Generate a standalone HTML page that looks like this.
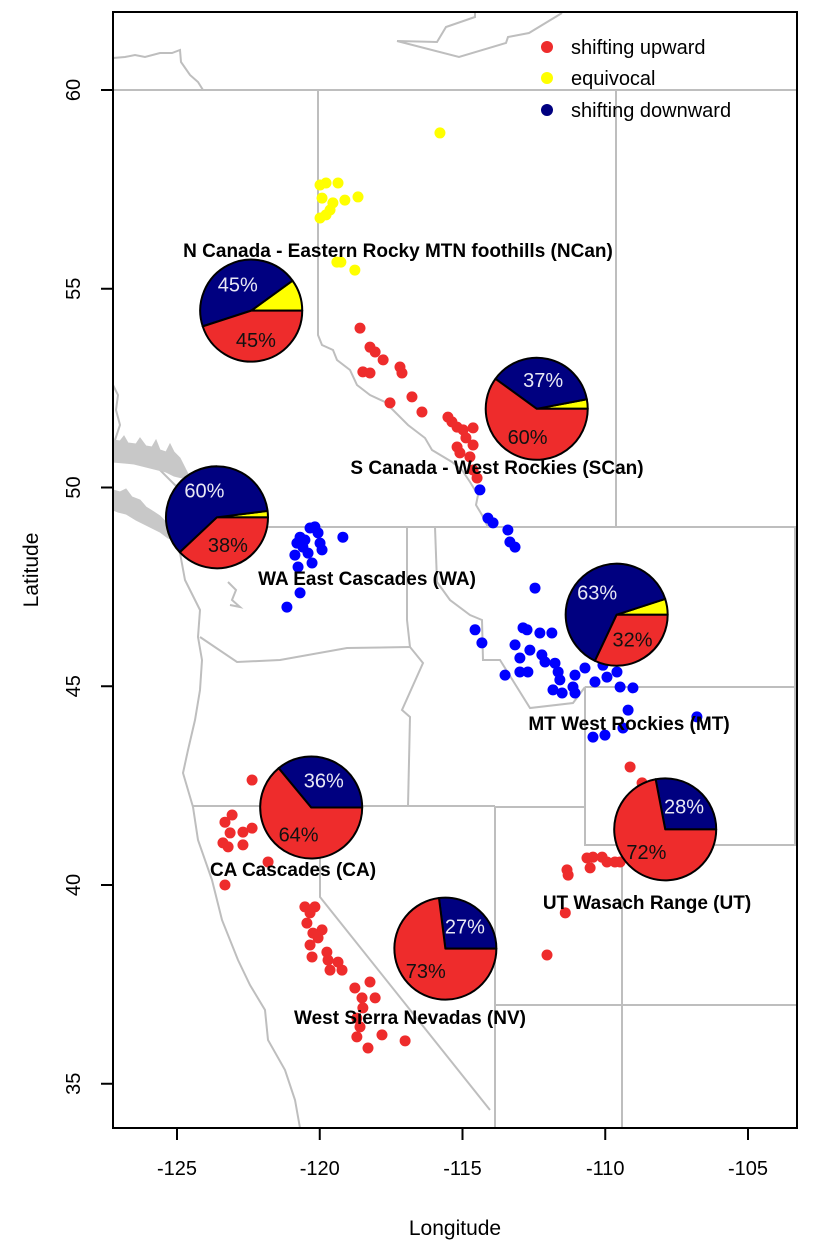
<!DOCTYPE html>
<html><head><meta charset="utf-8">
<style>
html,body{margin:0;padding:0;background:#fff;}
svg{display:block;font-family:"Liberation Sans",Arial,sans-serif;}
</style></head>
<body>
<svg id="chart" width="830" height="1250" viewBox="0 0 830 1250" xmlns="http://www.w3.org/2000/svg">
<g id="basemap" fill="none" stroke="#bebebe" stroke-width="2">
  <line x1="113" y1="90" x2="797" y2="90"/>
  <path d="M397,41 L459,57 L506,43 L508,37 L529,33 L562,13 M397,41 L437,42 L446,27 L475,17 L475,12"/>
  <path d="M113,58 L125,57 L135,55 L145,57 L160,53 L172,53 L180,50 L181,62 L190,75 L198,82 L203,90"/>
  <path d="M318,90 L318,335 L322,345 L333,350 L337,360 L350,370 L357,385 L370,395 L385,402 L395,412 L408,425 L425,438 L432,450 L452,462 L462,470 L470,482 L478,495 L476,505 L482,515 L488,527"/>
  <line x1="616" y1="90" x2="616" y2="527"/>
  <line x1="262" y1="527" x2="797" y2="527"/>
  <line x1="795" y1="527" x2="795" y2="845"/>
  <path d="M585,687 L797,687 M585,687 L585,845 L797,845"/>
  <path d="M495,807 L495,1128 M495,807 L585,807 M622,845 L622,1128 M495,1005 L797,1005"/>
  <path d="M320,807 L320,897 L490,1110"/>
  <line x1="193" y1="806" x2="495" y2="806"/>
  <path d="M407,527 L407,620 L410,647 L423,663 L402,710 L410,717 L408,806 M435,527 L437,582 L450,600 L470,615 L482,620 L483,660 L500,660 L530,708 L573,703 L585,687"/>
  <path d="M200,637 L237,662 L280,660 L347,648 L410,647"/>
  <path d="M113,385 L118,395 L116,410 L120,425 L115,440 M113,445 L140,455 L160,470 L180,490 L190,510 L182,530 L180,553 L185,580 L200,610 L198,637 L202,660 L200,690 L195,720 L188,750 L183,773 L193,807 L198,840 L212,880 L222,920 L238,960 L250,985 L265,1010 L268,1040 L285,1070 L295,1100 L300,1128"/>
  <path fill="#c8c8c8" stroke="#c8c8c8" stroke-width="1" d="M113,440 L120,441 L124,436 L128,443 L136,444 L140,438 L146,446 L152,447 L156,440 L160,450 L166,452 L170,444 L174,452 L180,458 L184,466 L188,474 L182,478 L174,476 L166,472 L158,470 L150,468 L142,466 L134,464 L124,463 L113,462 Z M113,490 L120,492 L126,489 L132,497 L140,500 L146,507 L154,512 L160,516 L168,524 L174,532 L176,540 L168,538 L160,532 L152,528 L144,524 L136,520 L126,514 L118,512 L113,510 Z"/>
  <path d="M228,582 L236,590 L232,600 L240,607 L230,605"/>
</g>
<g id="points"></g>
<g id="pies"></g>
<g id="regionLabels" font-weight="bold" font-size="19" fill="#000" text-anchor="middle">
  <text x="398" y="257">N Canada - Eastern Rocky MTN foothills (NCan)</text>
  <text x="497" y="474">S Canada - West Rockies (SCan)</text>
  <text x="367" y="585">WA East Cascades (WA)</text>
  <text x="629" y="730">MT West Rockies (MT)</text>
  <text x="293" y="876">CA Cascades (CA)</text>
  <text x="647" y="909">UT Wasach Range (UT)</text>
  <text x="410" y="1024">West Sierra Nevadas (NV)</text>
</g>
<g id="legend" font-size="20" fill="#000">
  <g><circle cx="547" cy="47" r="6" fill="#ee2c2c"/><text x="571" y="54">shifting upward</text></g>
  <g><circle cx="547" cy="78" r="6" fill="#ffff00"/><text x="571" y="85">equivocal</text></g>
  <g><circle cx="547" cy="110" r="6" fill="#000080"/><text x="571" y="117">shifting downward</text></g>
</g>
<rect x="113" y="12" width="684" height="1116" fill="none" stroke="#000" stroke-width="2"/>
<g id="xaxis"></g>
<g id="yaxis"></g>
<text x="455" y="1235" font-size="21" text-anchor="middle">Longitude</text>
<text transform="translate(38,570) rotate(-90)" font-size="21" text-anchor="middle">Latitude</text>
</svg>
<script>
const xTicks = [-125, -120, -115, -110, -105];
const yTicks = [35, 40, 45, 50, 55, 60];
const upLon = [-118.59,-118.24,-118.06,-117.78,-117.19,-117.12,-118.49,-118.24,-117.54,-116.77,-116.42,-115.51,-115.19,-114.98,-114.63,-115.19,-114.63,-115.09,-114.74,-114.63,-114.49,-114.88,-115.37,
 -122.37,-123.07,-123.32,-123.14,-123.39,-123.21,-122.69,-122.37,-122.69,-121.81,-123.32,
 -120.52,-120.17,-120.34,-120.45,-119.92,-120.24,-120.06,-120.34,-120.27,-119.75,-119.71,-119.36,-119.22,-119.64,-118.24,-118.77,-118.52,-118.06,-118.49,-118.70,-118.59,-117.82,-118.70,-118.31,-117.01,
 -109.13,-108.71,-110.64,-110.43,-110.11,-110.53,-109.94,-109.66,-109.48,-111.34,-111.30,-111.40,-112.04];
const upLat = [54.01,53.53,53.41,53.21,53.03,52.88,52.91,52.88,52.13,52.28,51.90,51.77,51.52,51.45,51.50,51.02,51.07,50.87,50.77,50.44,50.24,51.25,51.65,
 42.64,41.76,41.58,41.31,41.06,40.96,41.33,41.43,41.01,40.58,40.00,
 39.45,39.45,39.30,39.04,38.87,38.79,38.67,38.49,38.19,38.31,38.11,38.06,37.86,37.86,37.56,37.41,37.16,37.16,36.91,36.65,36.43,36.23,36.18,35.90,36.08,
 42.97,42.57,40.68,40.70,40.70,40.43,40.58,40.58,40.58,40.38,40.25,39.30,38.24];
const eqLon = [-115.79,-119.99,-119.78,-119.36,-119.92,-119.54,-119.12,-118.66,-119.64,-119.99,-119.78,-119.40,-119.26,-118.77];
const eqLat = [58.92,57.61,57.66,57.66,57.28,57.16,57.23,57.31,56.98,56.78,56.86,55.67,55.67,55.47];
const downLon = [-114.39,-114.11,-113.93,-113.41,-113.34,-113.16,-112.46,-114.56,-114.32,-112.88,-112.74,-112.29,-111.87,-113.16,-112.64,-112.99,-112.22,-112.11,-111.76,-112.99,-112.71,-113.51,-111.65,-111.06,-110.71,-111.59,-111.83,-111.51,-111.13,-111.06,-110.36,-110.08,-109.94,-109.59,-109.48,-109.03,-109.20,-110.43,-110.01,-106.79,-109.38,
 -120.17,-120.34,-120.69,-120.80,-120.59,-120.41,-120.27,-119.99,-119.92,-120.06,-119.19,-120.76,-120.69,-121.15,-120.52,-120.87];
const downLat = [49.94,49.23,49.11,48.93,48.63,48.50,47.47,46.42,46.09,46.47,46.42,46.34,46.34,46.04,45.91,45.71,45.79,45.61,45.58,45.36,45.36,45.28,45.36,45.28,45.46,45.16,44.91,44.83,44.98,44.83,45.11,45.53,45.23,45.36,44.98,44.96,44.40,43.72,43.77,44.23,43.95,
 49.01,48.98,48.75,48.60,48.50,48.35,48.10,48.60,48.43,48.86,48.75,48.00,47.35,46.99,48.68,48.30];
const regions = ["NCan","SCan","WA","MT","CA","UT","NV"];
const pieLon = [-122.4,-112.4,-123.6,-109.6,-120.3,-107.9,-115.6];
const pieLat = [54.45,51.98,49.25,46.8,41.95,41.4,38.4];
const pctUp = [45,60,38,32,64,72,73];
const pctEq = [10,3,2,5,0,0,0];
const pctDown = [45,37,60,63,36,28,27];

const NS = "http://www.w3.org/2000/svg";
const xs = lon => 177 + (lon + 125) * 28.55;
const ys = lat => 90 + (60 - lat) * 39.75;
function mk(tag, attrs, parent){const e=document.createElementNS(NS,tag);for(const k in attrs)e.setAttribute(k,attrs[k]);parent.appendChild(e);return e;}

const xa=document.getElementById('xaxis');
xTicks.forEach(v=>{
  const l=mk('line',{x1:xs(v),x2:xs(v),y1:1128,y2:1140,stroke:'#000','stroke-width':2},xa);
  
  
  const t=mk('text',{x:xs(v),y:1175,'font-size':20,'text-anchor':'middle'},xa);
  
  
  t.textContent=v;
});
const ya=document.getElementById('yaxis');
yTicks.forEach(v=>{
  const l=mk('line',{x1:101,x2:113,y1:ys(v),y2:ys(v),stroke:'#000','stroke-width':2},ya);
  
  
  const t=mk('text',{transform:`translate(${80},${ys(v)}) rotate(-90)`,'font-size':20,'text-anchor':'middle'},ya);
  
  
  t.textContent=v;
});

const pg=document.getElementById('points');
function drawPts(lons,lats,color,name){
  lons.forEach((lo,i)=>{
    const c=mk('circle',{cx:xs(lo),cy:ys(lats[i]),r:5.5,fill:color},pg);
    
    
  });
}
drawPts(eqLon,eqLat,'#ffff00','point-equivocal');
drawPts(upLon,upLat,'#ee2c2c','point-upward');
drawPts(downLon,downLat,'#0000ff','point-downward');

const pies=document.getElementById('pies');
const R=51;
regions.forEach((r,i)=>{
  const cx=xs(pieLon[i]), cy=ys(pieLat[i]);
  const g=mk('g',{},pies);
  
  
  const tot=pctEq[i]+pctDown[i]+pctUp[i];
  const vals=[pctEq[i],pctDown[i],pctUp[i]];
  const cols=['#ffff00','#000080','#ee2c2c'];
  const nm=['equivocal','downward','upward'];
  let a0=0;
  vals.forEach((v,k)=>{
    const a1=a0+v/tot*2*Math.PI;
    if(v>0){
      const x0=cx+R*Math.cos(a0), y0=cy-R*Math.sin(a0);
      const x1=cx+R*Math.cos(a1), y1=cy-R*Math.sin(a1);
      const large=(a1-a0)>Math.PI?1:0;
      const p=mk('path',{d:`M${cx},${cy} L${x0},${y0} A${R},${R} 0 ${large} 0 ${x1},${y1} Z`,fill:cols[k],stroke:'#000','stroke-width':2,'stroke-linejoin':'round'},g);
      
      
      if(k>0){
        const am=(a0+a1)/2;
        const t=mk('text',{x:cx+R*0.58*Math.cos(am),y:cy-R*0.58*Math.sin(am)+7,'font-size':20,'text-anchor':'middle',fill:k===1?'#e8e8f4':'#111'},g);
        
        
        t.textContent=v+'%';
      }
    }
    a0=a1;
  });
});
</script>
</body></html>
